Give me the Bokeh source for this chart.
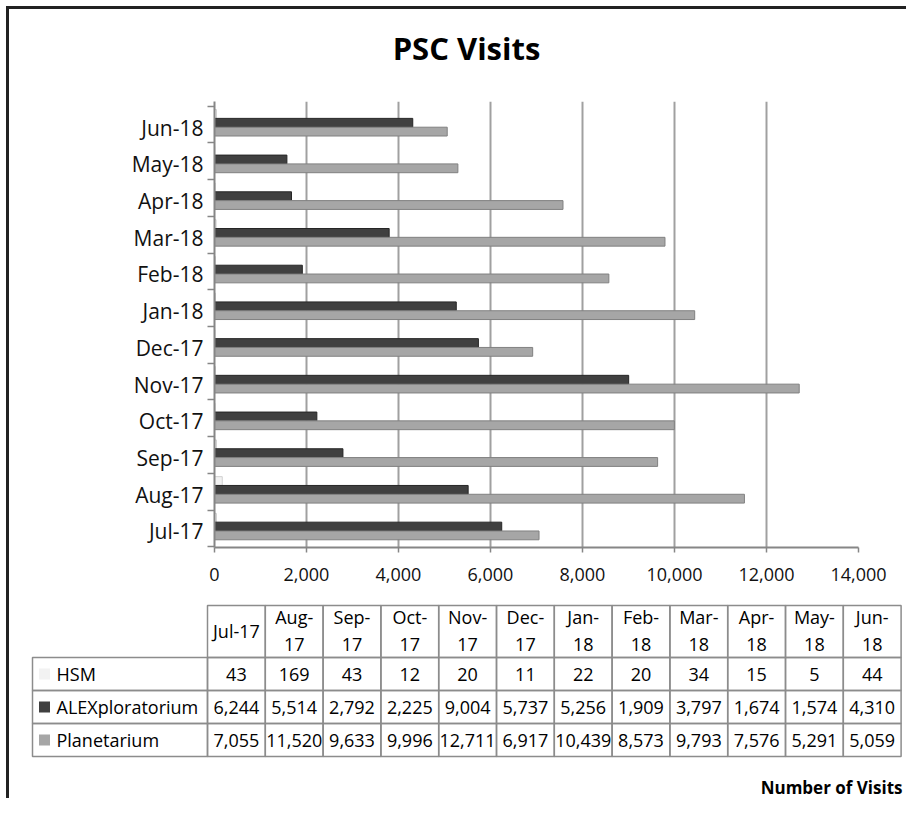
from bokeh.plotting import figure
from bokeh.models import Range1d, FixedTicker, NumeralTickFormatter, ColumnDataSource
from bokeh.layouts import column
from bokeh.embed import file_html
from bokeh.resources import INLINE
from bokeh.core.properties import value
from bokeh.transform import dodge

# ---------------- data ----------------
months = ["Jul-17", "Aug-17", "Sep-17", "Oct-17", "Nov-17", "Dec-17",
          "Jan-18", "Feb-18", "Mar-18", "Apr-18", "May-18", "Jun-18"]
header_labels = ["Jul-17", "Aug-\n17", "Sep-\n17", "Oct-\n17", "Nov-\n17", "Dec-\n17",
                 "Jan-\n18", "Feb-\n18", "Mar-\n18", "Apr-\n18", "May-\n18", "Jun-\n18"]
hsm = [43, 169, 43, 12, 20, 11, 22, 20, 34, 15, 5, 44]
alex = [6244, 5514, 2792, 2225, 9004, 5737, 5256, 1909, 3797, 1674, 1574, 4310]
planet = [7055, 11520, 9633, 9996, 12711, 6917, 10439, 8573, 9793, 7576, 5291, 5059]
series_names = ["HSM", "ALEXploratorium", "Planetarium"]
x_ticks = [0, 2000, 4000, 6000, 8000, 10000, 12000, 14000]
title_text = "PSC Visits"
axis_title = "Number of Visits"

# ---------------- styles ----------------
FONT = "Open Sans"
colors = ["#f2f2f2", "#404040", "#a6a6a6"]
edges = ["#d0d0d0", "#262626", "#808080"]
GRID = "#a0a0a0"
AX = "#868686"
TABLE_LINE = "#8c8c8c"

W = 897
HT = 62
HA = 527
HB = 200


def blank(height):
    f = figure(width=W, height=height, output_backend="svg", toolbar_location=None,
               x_range=Range1d(0, W), y_range=Range1d(height, 0),
               x_axis_type=None, y_axis_type=None,
               min_border_left=0, min_border_right=0, min_border_top=0, min_border_bottom=0)
    f.outline_line_color = None
    f.grid.visible = False
    f.background_fill_color = "white"
    f.border_fill_color = "white"
    return f


# ---------------- title ----------------
pT = blank(HT)
pT.text(x=[457], y=[38], text=[title_text], text_font=value(FONT), text_font_style="bold",
        text_font_size="31px", text_align="center", text_baseline="middle", text_color="#000000")

# ---------------- bar chart ----------------
pA = figure(width=W, height=HA, output_backend="svg", toolbar_location=None,
            x_range=Range1d(0, 14000), y_range=Range1d(-0.44, 11.71),
            min_border_left=205, min_border_right=W - 849, min_border_top=30, min_border_bottom=51)
pA.outline_line_color = None
pA.background_fill_color = "white"
pA.border_fill_color = "white"

idx = list(range(len(months)))
src = ColumnDataSource(dict(y=idx, hsm=hsm, alex=alex, planet=planet))
offsets = [0.37, 0.13, -0.11]
for key, off, c, e in zip(["hsm", "alex", "planet"], offsets, colors, edges):
    pA.hbar(y=dodge("y", off), left=0, right=key, height=0.24, source=src,
            fill_color=c, line_color=e, line_width=1)

pA.xgrid.grid_line_color = GRID
pA.xgrid.grid_line_width = 2
pA.ygrid.visible = False

xax = pA.xaxis[0]
xax.ticker = FixedTicker(ticks=x_ticks)
xax.formatter = NumeralTickFormatter(format="0,0")
xax.axis_line_color = AX
xax.axis_line_width = 2
xax.major_tick_line_color = AX
xax.major_tick_line_width = 1.5
xax.major_tick_out = 5
xax.major_tick_in = 0
xax.minor_tick_line_color = None
xax.major_label_standoff = 15
xax.major_label_text_font = FONT
xax.major_label_text_font_size = "18px"
xax.major_label_text_color = "#111111"

yax = pA.yaxis[0]
yax.ticker = FixedTicker(ticks=idx, minor_ticks=[i - 0.42 for i in range(len(months) + 1)])
yax.major_label_overrides = {i: m for i, m in enumerate(months)}
yax.axis_line_color = AX
yax.axis_line_width = 2
yax.major_tick_line_color = None
yax.major_tick_out = 0
yax.major_tick_in = 0
yax.minor_tick_line_color = AX
yax.minor_tick_line_width = 1.5
yax.minor_tick_out = 7
yax.minor_tick_in = 0
yax.major_label_standoff = 4
yax.major_label_text_font = FONT
yax.major_label_text_font_size = "21px"
yax.major_label_text_color = "#111111"

# ---------------- data table ----------------
pB = blank(HB)

TL = 198.0      # left edge of first month column
CW = 57.8       # month column width
HTOP, HH = 7.0, 52.0   # header top, header height
RH = 33.0       # data row height
LL = 23.0       # legend column left edge

col_x = [TL + (j + 0.5) * CW for j in idx]
hdr = ColumnDataSource(dict(x=col_x, y=[HTOP + HH / 2 - 1] * len(idx), t=header_labels))
pB.rect(x="x", y=HTOP + HH / 2, width=CW, height=HH, source=hdr, fill_color=None,
        line_color=TABLE_LINE, line_width=1.5)
pB.text(x="x", y="y", text="t", source=hdr, text_font=value(FONT), text_font_size="18px",
        text_align="center", text_baseline="middle", text_line_height=1.1, text_color="#000000")

rows_top = HTOP + HH
for r, (name, vals, c) in enumerate(zip(series_names, [hsm, alex, planet], colors)):
    yc = rows_top + (r + 0.5) * RH
    cells = ColumnDataSource(dict(x=col_x, y=[yc] * len(idx), t=[f"{v:,}" for v in vals]))
    pB.rect(x="x", y="y", width=CW, height=RH, source=cells, fill_color=None,
            line_color=TABLE_LINE, line_width=1.5)
    pB.text(x="x", y="y", text="t", source=cells, text_font=value(FONT), text_font_size="18px",
            text_align="center", text_baseline="middle", text_color="#000000")
    leg = ColumnDataSource(dict(x=[(LL + TL) / 2], y=[yc], kx=[LL + 12], tx=[LL + 24], t=[name]))
    pB.rect(x="x", y="y", width=TL - LL, height=RH, source=leg, fill_color=None,
            line_color=TABLE_LINE, line_width=1.5)
    pB.rect(x="kx", y="y", width=11, height=11, source=leg, fill_color=c, line_color=None)
    pB.text(x="tx", y="y", text="t", source=leg, text_font=value(FONT), text_font_size="18px",
            text_align="left", text_baseline="middle", text_color="#000000")

at = ColumnDataSource(dict(x=[W - 4], y=[189], t=[axis_title]))
pB.text(x="x", y="y", text="t", source=at, text_font=value(FONT), text_font_size="17px",
        text_font_style="bold", text_align="right", text_baseline="middle", text_color="#000000")

layout = column(column(pT), pA, column(pB), spacing=0,
                styles={"margin-left": "6px", "margin-top": "6px",
                        "box-sizing": "content-box", "overflow": "visible",
                        "border-top": "3px solid #222222", "border-left": "3px solid #222222"})

open("out.html", "w").write(file_html(layout, INLINE))
